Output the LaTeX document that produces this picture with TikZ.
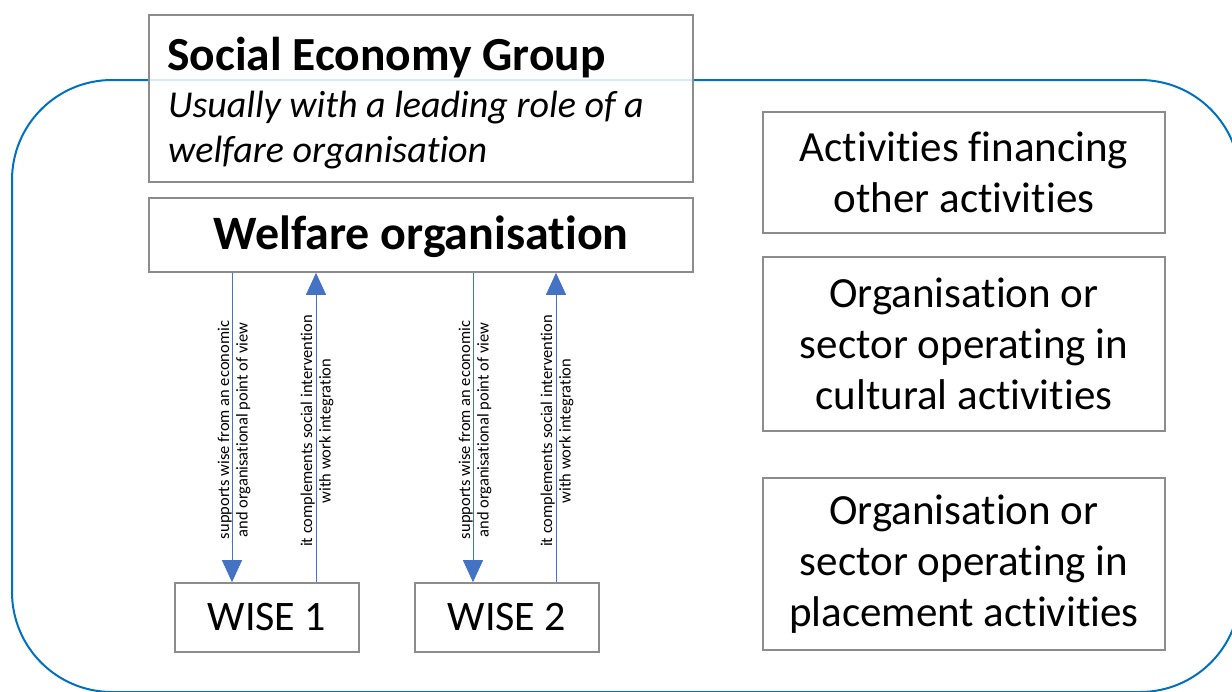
\documentclass[tikz,border=0pt]{standalone}
\usepackage{fontspec}
\setmainfont[Ligatures=NoCommon]{Carlito}
\usetikzlibrary{arrows.meta}
\definecolor{groupblue}{RGB}{0,112,192}
\definecolor{arrowblue}{RGB}{68,114,196}
\definecolor{boxgray}{RGB}{140,140,140}
\tikzset{
  box/.style={draw=boxgray, line width=1.6pt, fill=white, inner sep=0pt, align=center},
  conn/.style={draw=arrowblue, line width=1pt, -{Triangle[width=20pt,length=22pt]}},
  rotlabel/.style={rotate=90, font=\fontsize{16.5}{18.5}\selectfont, align=center, inner sep=0pt},
  bigtext/.style={font=\fontsize{43}{51}\selectfont},
}
\begin{document}
\begin{tikzpicture}[x=1pt,y=-1pt]
\useasboundingbox (0,0) rectangle (1232,691);
% group outline
\draw[groupblue, line width=2pt, rounded corners=100pt] (12,80) rectangle (1240,692);
% Social Economy Group box
\node[box, fill opacity=0.85, text opacity=1, minimum width=544pt, minimum height=167pt] (seg) at (421,98.5) {};
\node[anchor=base west, inner sep=0pt, font=\fontsize{47.5}{50}\selectfont\bfseries] (segtitle) at (167,70) {Social Economy Group};
\node[anchor=base west, inner sep=0pt, font=\fontsize{38}{45}\selectfont\itshape] (segsub1) at (168,117) {Usually with a leading role of a};
\node[anchor=base west, inner sep=0pt, font=\fontsize{38}{45}\selectfont\itshape] (segsub2) at (168,162) {welfare organisation};
% Welfare organisation
\node[box, minimum width=544pt, minimum height=74pt, text height=32pt, text depth=4pt, font=\fontsize{48}{50}\selectfont\bfseries] (welf) at (421,235) {Welfare organisation};
% WISE boxes
\node[box, minimum width=184pt, minimum height=69pt, font=\fontsize{42}{45}\selectfont] (wise1) at (267,617.5) {WISE 1};
\node[box, minimum width=184pt, minimum height=69pt, font=\fontsize{42}{45}\selectfont] (wise2) at (507,617.5) {WISE 2};
% right boxes
\node[box, bigtext, minimum width=402pt, minimum height=121pt] (fin) at (964,172.5) {Activities financing\\other activities};
\node[box, bigtext, minimum width=402pt, minimum height=174pt] (cult) at (964,344) {Organisation or\\sector operating in\\cultural activities};
\node[box, bigtext, minimum width=402pt, minimum height=172pt] (place) at (964,564) {Organisation or\\sector operating in\\placement activities};
% arrows WISE 1
\draw[conn] (welf.south -| 232,0) -- (wise1.north -| 232,0);
\draw[conn] (wise1.north -| 316,0) -- (welf.south -| 316,0);
% arrows WISE 2
\draw[conn] (welf.south -| 473,0) -- (wise2.north -| 473,0);
\draw[conn] (wise2.north -| 556,0) -- (welf.south -| 556,0);
% labels
\node[rotlabel] (l1) at (234,430) {supports wise from an economic\\and organisational point of view};
\node[rotlabel] (l2) at (317,431) {it complements social intervention\\with work integration};
\node[rotlabel] (l3) at (475,430) {supports wise from an economic\\and organisational point of view};
\node[rotlabel] (l4) at (557,431) {it complements social intervention\\with work integration};
\end{tikzpicture}
\end{document}
